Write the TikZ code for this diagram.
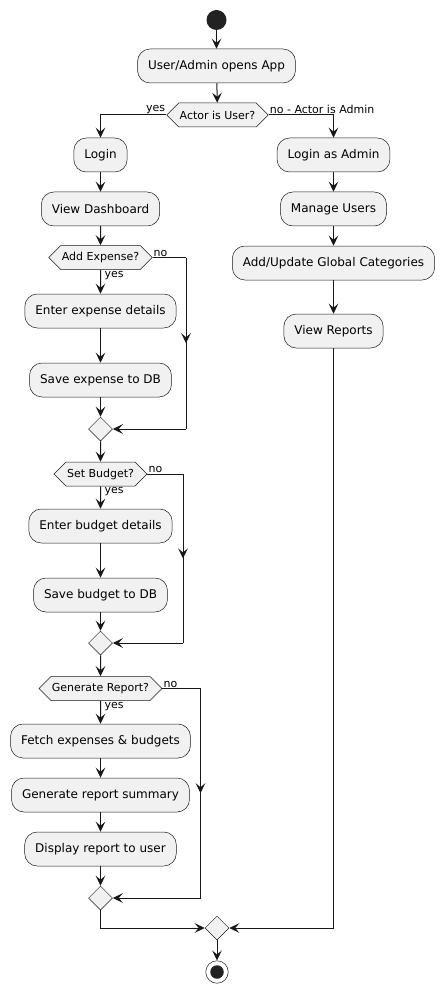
\documentclass[tikz,border=0pt]{standalone}
\usepackage{fontspec}
\setmainfont{DejaVu Sans}
\usetikzlibrary{shapes.geometric,shapes.symbols,arrows.meta,decorations.markings}

\definecolor{actfill}{HTML}{F1F1F1}
\definecolor{actline}{HTML}{181818}
\definecolor{dotfill}{HTML}{222222}

\tikzset{
  tip/.tip={Stealth[length=10pt,width=9.5pt,inset=4pt]},
  action/.style={draw=actline, line width=0.5pt, fill=actfill,
    rounded corners=12.5pt, minimum height=34pt, inner xsep=10.5pt,
    font=\fontsize{12}{14}\selectfont},
  decision/.style={signal, signal to=east and west, signal pointer angle=90,
    draw=actline, line width=0.5pt, fill=actfill, inner xsep=1pt, inner ysep=0pt,
    minimum height=24pt, font=\fontsize{11}{13}\selectfont},
  merge/.style={diamond, draw=actline, line width=0.5pt, fill=actfill,
    minimum size=24pt, inner sep=0pt},
  startdot/.style={circle, fill=dotfill, minimum size=20pt, inner sep=0pt},
  enddot/.style={circle, draw=actline, line width=0.5pt, fill=white,
    minimum size=22.5pt, inner sep=0pt},
  flow/.style={draw=actline, line width=1pt, -tip},
  wire/.style={draw=actline, line width=1pt},
  midtip/.style={postaction={decorate}, decoration={markings,
    mark=at position 0.5 with {\arrow{tip}}}},
  guard/.style={font=\fontsize{11}{13}\selectfont, inner sep=1pt},
}

\begin{document}
\begin{tikzpicture}[x=1pt, y=-1pt]
  \useasboundingbox (0,0) rectangle (444,992);

  % common start
  \node[startdot] (start) at (216.5,20) {};
  \node[action] (open) at (216.5,66) {User/Admin opens App};
  \node[decision] (actor) at (217.5,115) {Actor is User?};

  % user branch
  \node[action] (login) at (100.5,155) {Login};
  \node[action] (dash) at (100.5,209) {View Dashboard};
  \node[decision] (addexp) at (100.5,257.5) {Add Expense?};
  \node[action] (entexp) at (100.5,311) {Enter expense details};
  \node[action] (saveexp) at (100.5,380) {Save expense to DB};
  \node[merge] (m1) at (100.5,429) {};
  \node[decision] (setbud) at (100.5,474) {Set Budget?};
  \node[action] (entbud) at (100.5,526) {Enter budget details};
  \node[action] (savebud) at (100.5,595) {Save budget to DB};
  \node[merge] (m2) at (100.5,643) {};
  \node[decision] (genrep) at (100.5,688.5) {Generate Report?};
  \node[action] (fetch) at (100.5,741) {Fetch expenses \& budgets};
  \node[action] (summary) at (100.5,795) {Generate report summary};
  \node[action] (display) at (100.5,849) {Display report to user};
  \node[merge] (m3) at (100.5,898) {};

  % admin branch
  \node[action] (admlogin) at (333.5,155) {Login as Admin};
  \node[action] (users) at (333.5,209) {Manage Users};
  \node[action] (cats) at (333.5,263) {Add/Update Global Categories};
  \node[action] (reports) at (333.5,331) {View Reports};

  % end
  \node[merge] (mfinal) at (217,928) {};
  \node[enddot] (stop) at (217,972) {};
  \node[startdot, minimum size=13.5pt] (stopdot) at (stop) {};

  % skip routes for the "no" answers
  \coordinate (n1) at (186,257.5);
  \coordinate (n2) at (183,474);
  \coordinate (n3) at (200.5,688.5);

  % main flow
  \draw[flow] (start) -- (open);
  \draw[flow] (open) -- (actor);
  \draw[flow] (actor.west) -| (login.north);
  \node[guard, anchor=south east] at (actor.west) {yes};
  \draw[flow] (actor.east) -| (admlogin.north);
  \node[guard, anchor=south west] at (actor.east) {no - Actor is Admin};

  \draw[flow] (login) -- (dash);
  \draw[flow] (dash) -- (addexp);
  \draw[flow] (addexp) -- (entexp);
  \node[guard, anchor=north west] at ([xshift=3pt]addexp.south) {yes};
  \draw[flow] (entexp) -- (saveexp);
  \draw[flow] (saveexp) -- (m1);
  \draw[wire] (addexp.east) -- (n1);
  \draw[wire, midtip] (n1) -- (n1 |- m1);
  \draw[flow] (n1 |- m1) -- (m1.east);
  \node[guard, anchor=south west] at (addexp.east) {no};

  \draw[flow] (m1) -- (setbud);
  \draw[flow] (setbud) -- (entbud);
  \node[guard, anchor=north west] at ([xshift=3pt]setbud.south) {yes};
  \draw[flow] (entbud) -- (savebud);
  \draw[flow] (savebud) -- (m2);
  \draw[wire] (setbud.east) -- (n2);
  \draw[wire, midtip] (n2) -- (n2 |- m2);
  \draw[flow] (n2 |- m2) -- (m2.east);
  \node[guard, anchor=south west] at (setbud.east) {no};

  \draw[flow] (m2) -- (genrep);
  \draw[flow] (genrep) -- (fetch);
  \node[guard, anchor=north west] at ([xshift=3pt]genrep.south) {yes};
  \draw[flow] (fetch) -- (summary);
  \draw[flow] (summary) -- (display);
  \draw[flow] (display) -- (m3);
  \draw[wire] (genrep.east) -- (n3);
  \draw[wire, midtip] (n3) -- (n3 |- m3);
  \draw[flow] (n3 |- m3) -- (m3.east);
  \node[guard, anchor=south west] at (genrep.east) {no};

  \draw[flow] (admlogin) -- (users);
  \draw[flow] (users) -- (cats);
  \draw[flow] (cats) -- (reports);

  \draw[flow] (m3.south) |- (mfinal.west);
  \draw[flow] (reports.south) |- (mfinal.east);
  \draw[flow] (mfinal) -- (stop);
\end{tikzpicture}
\end{document}
